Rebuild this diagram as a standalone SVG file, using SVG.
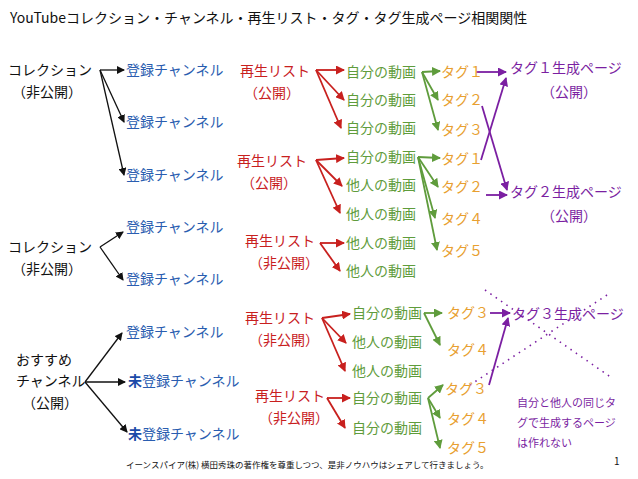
<svg xmlns="http://www.w3.org/2000/svg" width="638" height="479" viewBox="0 0 638 479">
<style>
text{font-family:"Noto Sans CJK JP","Noto Sans CJK SC",sans-serif;font-size:14px}
.k{fill:#111}.b{fill:#2a5db0}.r{fill:#c8201e}.g{fill:#5f9c3c}.o{fill:#e8a030}.p{fill:#7b1fa2}
.lk line{stroke:#111;stroke-width:1.3;marker-end:url(#ak)}
.lr line{stroke:#c8201e;stroke-width:1.8;marker-end:url(#ar)}
.lg line{stroke:#5f9c3c;stroke-width:1.8;marker-end:url(#ag)}
.lp line{stroke:#7b1fa2;stroke-width:1.8;marker-end:url(#ap)}
</style>
<defs>
<marker id="ak" markerWidth="8" markerHeight="8" refX="7" refY="4" orient="auto" markerUnits="userSpaceOnUse"><path d="M0,0L8,4L0,8z" fill="#111"/></marker>
<marker id="ar" markerWidth="9" markerHeight="9" refX="8" refY="4.5" orient="auto" markerUnits="userSpaceOnUse"><path d="M0,0L9,4.5L0,9z" fill="#c8201e"/></marker>
<marker id="ag" markerWidth="9" markerHeight="9" refX="8" refY="4.5" orient="auto" markerUnits="userSpaceOnUse"><path d="M0,0L9,4.5L0,9z" fill="#5f9c3c"/></marker>
<marker id="ap" markerWidth="9" markerHeight="9" refX="8" refY="4.5" orient="auto" markerUnits="userSpaceOnUse"><path d="M0,0L9,4.5L0,9z" fill="#7b1fa2"/></marker>
</defs>
<rect width="638" height="479" fill="#fff"/>
<text x="10" y="23" class="k">YouTubeコレクション・チャンネル・再生リスト・タグ・タグ生成ページ相関関性</text>
<g id="connectors">
<g class="lk">
<line x1="100" y1="70" x2="124" y2="70"/><line x1="100" y1="70" x2="124" y2="122"/><line x1="100" y1="70" x2="124" y2="175"/>
<line x1="100" y1="247" x2="123" y2="232"/><line x1="100" y1="247" x2="123" y2="280"/>
<line x1="85" y1="382" x2="122" y2="333"/><line x1="85" y1="382" x2="125" y2="382"/><line x1="85" y1="382" x2="127" y2="432"/>
</g>
<g class="lr">
<line x1="316" y1="70" x2="344" y2="70"/><line x1="316" y1="70" x2="344" y2="100"/><line x1="316" y1="70" x2="341" y2="128"/>
<line x1="316" y1="160" x2="344" y2="158"/><line x1="316" y1="160" x2="342" y2="186"/><line x1="316" y1="160" x2="340" y2="213"/>
<line x1="320" y1="243" x2="344" y2="243"/><line x1="320" y1="243" x2="340" y2="271"/>
<line x1="322" y1="318" x2="350" y2="314"/><line x1="322" y1="318" x2="346" y2="343"/><line x1="322" y1="318" x2="345" y2="371"/>
<line x1="327" y1="398" x2="350" y2="398"/><line x1="327" y1="398" x2="345" y2="428"/>
</g>
<g class="lg">
<line x1="422" y1="72" x2="440" y2="71"/><line x1="422" y1="72" x2="438" y2="100"/><line x1="422" y1="72" x2="438" y2="130"/>
<line x1="418" y1="157" x2="440" y2="158"/><line x1="418" y1="157" x2="438" y2="187"/><line x1="418" y1="157" x2="435" y2="218"/><line x1="418" y1="157" x2="437" y2="250"/>
<line x1="424" y1="313" x2="442" y2="313"/><line x1="424" y1="313" x2="440" y2="345"/>
<line x1="428" y1="398" x2="443" y2="385"/><line x1="428" y1="398" x2="440" y2="418"/><line x1="428" y1="398" x2="440" y2="448"/>
</g>
<g class="lp">
<line x1="476" y1="72" x2="506" y2="72"/><line x1="481" y1="160" x2="506" y2="78"/><line x1="482" y1="106" x2="507" y2="190"/><line x1="486" y1="195" x2="507" y2="195"/>
<line x1="490" y1="313" x2="510" y2="313"/><line x1="489" y1="385" x2="508" y2="318"/>
</g>
<path d="M485,290L612,378M607,295L467,387" stroke="#7b1fa2" stroke-width="1.6" stroke-dasharray="1.5,5" fill="none"/>
</g>
<g id="col1"><text x="8" y="75" class="k">コレクション</text><text x="12" y="97" class="k">（非公開）</text></g>
<g id="col2"><text x="8" y="252" class="k">コレクション</text><text x="12" y="274" class="k">（非公開）</text></g>
<g id="rec"><text x="16" y="365" class="k">おすすめ</text><text x="16" y="386" class="k">チャンネル</text><text x="22" y="408" class="k">（公開）</text></g>
<g id="channels">
<text x="126" y="75" class="b">登録チャンネル</text>
<text x="126" y="127" class="b">登録チャンネル</text>
<text x="126" y="180" class="b">登録チャンネル</text>
<text x="126" y="232" class="b">登録チャンネル</text>
<text x="126" y="284" class="b">登録チャンネル</text>
<text x="126" y="337" class="b">登録チャンネル</text>
<text x="128" y="386" class="b"><tspan font-weight="bold" fill="#1a4aa8">未</tspan>登録チャンネル</text>
<text x="128" y="439" class="b"><tspan font-weight="bold" fill="#1a4aa8">未</tspan>登録チャンネル</text>
</g>
<g id="playlists">
<text x="240" y="76" class="r">再生リスト</text><text x="244" y="98" class="r">（公開）</text>
<text x="237" y="166" class="r">再生リスト</text><text x="241" y="188" class="r">（公開）</text>
<text x="245" y="246" class="r">再生リスト</text><text x="249" y="268" class="r">（非公開）</text>
<text x="245" y="323" class="r">再生リスト</text><text x="249" y="345" class="r">（非公開）</text>
<text x="255" y="401" class="r">再生リスト</text><text x="259" y="423" class="r">（非公開）</text>
</g>
<g id="videos">
<text x="346" y="77" class="g">自分の動画</text>
<text x="346" y="105" class="g">自分の動画</text>
<text x="346" y="133" class="g">自分の動画</text>
<text x="346" y="162" class="g">自分の動画</text>
<text x="346" y="190" class="g">他人の動画</text>
<text x="346" y="219" class="g">他人の動画</text>
<text x="346" y="248" class="g">他人の動画</text>
<text x="346" y="276" class="g">他人の動画</text>
<text x="352" y="318" class="g">自分の動画</text>
<text x="352" y="347" class="g">他人の動画</text>
<text x="352" y="376" class="g">他人の動画</text>
<text x="352" y="403" class="g">自分の動画</text>
<text x="352" y="433" class="g">自分の動画</text>
</g>
<g id="tags">
<text x="441" y="77" class="o">タグ１</text>
<text x="441" y="105" class="o">タグ２</text>
<text x="441" y="135" class="o">タグ３</text>
<text x="441" y="164" class="o">タグ１</text>
<text x="441" y="192" class="o">タグ２</text>
<text x="441" y="224" class="o">タグ４</text>
<text x="441" y="256" class="o">タグ５</text>
<text x="447" y="318" class="o">タグ３</text>
<text x="447" y="355" class="o">タグ４</text>
<text x="445" y="394" class="o">タグ３</text>
<text x="447" y="424" class="o">タグ４</text>
<text x="447" y="453" class="o">タグ５</text>
</g>
<g id="pages">
<text x="510" y="73" class="p">タグ１生成ページ</text><text x="541" y="97" class="p">（公開）</text>
<text x="510" y="197" class="p">タグ２生成ページ</text><text x="541" y="221" class="p">（公開）</text>
<text x="512" y="319" class="p">タグ３生成ページ</text>
</g>
<g id="note">
<text x="517" y="407" class="p" style="font-size:11px">自分と他人の同じタ</text>
<text x="517" y="427" class="p" style="font-size:11px">グで生成するページ</text>
<text x="517" y="447" class="p" style="font-size:11px">は作れない</text>
</g>
<text x="126" y="468" class="k" style="font-size:8.5px">イーンスパイア(株) 横田秀珠の著作権を尊重しつつ、是非ノウハウはシェアして行きましょう。</text>
<text x="614" y="465" class="k" style="font-size:10px">1</text>
</svg>
